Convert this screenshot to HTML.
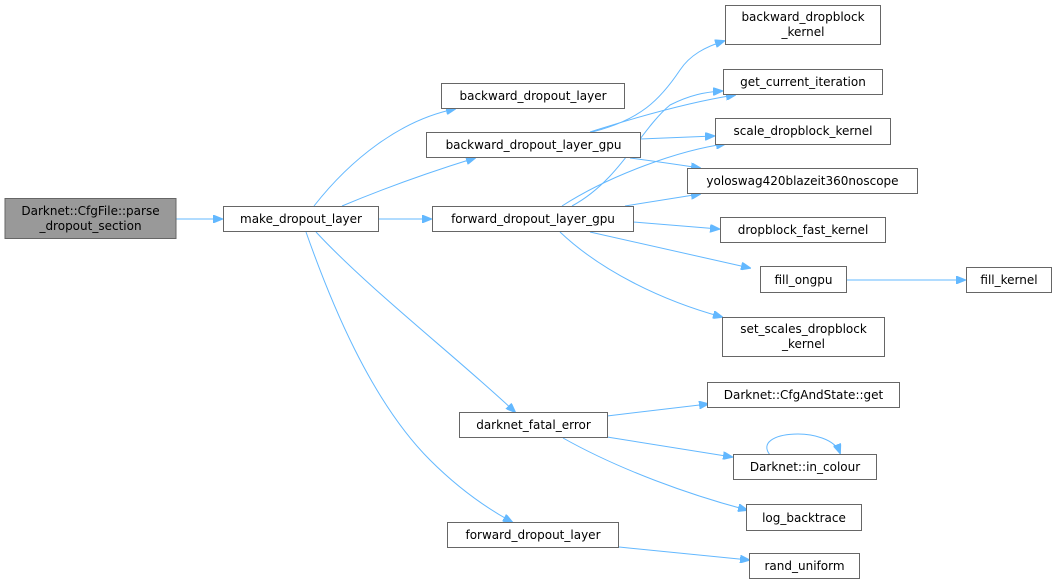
<!DOCTYPE html>
<html><head><meta charset="utf-8"><style>
html,body{margin:0;padding:0;background:#fff;}
svg{display:block}
text{font-family:"DejaVu Sans","Liberation Sans",sans-serif;font-size:12px;fill:#000;text-anchor:middle}
.n{fill:#fff;stroke:#666;stroke-width:1}
.e{fill:none;stroke:#63b8ff;stroke-width:1}
</style></head><body>
<svg width="1057" height="585" viewBox="0 0 1057 585">
<defs><marker id="a" markerWidth="10" markerHeight="8" refX="9" refY="4" orient="auto" markerUnits="userSpaceOnUse"><path d="M0,0 L10,4 L0,8 z" fill="#63b8ff" stroke="#63b8ff"/></marker></defs>
<g class="e" marker-end="url(#a)">
<path d="M176,219 L222,219"/>
<path d="M314,206 C350,160 400,120 455,109"/>
<path d="M342,206 C380,190 430,172 475,158"/>
<path d="M378,219 L431,219"/>
<path d="M316,232 C370,290 460,360 515,412"/>
<path d="M306,232 C330,300 370,400 430,460 C460,490 490,510 512,522"/>
<path d="M592,132 C640,120 660,100 680,70 C690,55 705,47 724,41"/>
<path d="M590,132 C640,116 690,102 735,95"/>
<path d="M640,139 L714,136"/>
<path d="M630,158 C660,162 680,165 700,168"/>
<path d="M562,206 C610,175 680,150 725,144"/>
<path d="M572,206 C620,180 640,130 670,105 C690,95 705,92 722,91"/>
<path d="M625,206 L700,194"/>
<path d="M633,222 L719,229"/>
<path d="M590,232 L750,268"/>
<path d="M560,232 C600,270 660,300 722,317"/>
<path d="M846,280 L965,280"/>
<path d="M607,416 L708,404"/>
<path d="M607,437 L732,457"/>
<path d="M563,438 C620,470 690,495 747,510"/>
<path d="M770,455 C750,430 830,425 840,453"/>
<path d="M619,547 L749,560"/>
</g>
<rect x="5" y="198.5" width="171" height="40" fill="#999" stroke="#666"/>
<text x="90.5" y="215">Darknet::CfgFile::parse</text>
<text x="90.5" y="230">_dropout_section</text>
<rect class="n" x="223.5" y="206.5" width="155" height="25"/><text x="301" y="223">make_dropout_layer</text>
<rect class="n" x="441.5" y="83.5" width="183" height="25"/><text x="533" y="100">backward_dropout_layer</text>
<rect class="n" x="426.5" y="132.5" width="214" height="25"/><text x="533.5" y="149">backward_dropout_layer_gpu</text>
<rect class="n" x="432.5" y="206.5" width="201" height="25"/><text x="533" y="223">forward_dropout_layer_gpu</text>
<rect class="n" x="459.5" y="412.5" width="148" height="25"/><text x="533.5" y="429">darknet_fatal_error</text>
<rect class="n" x="447.5" y="522.5" width="171" height="25"/><text x="533" y="539">forward_dropout_layer</text>
<rect class="n" x="725.5" y="5.5" width="155" height="39"/><text x="803" y="21">backward_dropblock</text><text x="803" y="36">_kernel</text>
<rect class="n" x="723.5" y="69.5" width="159" height="25"/><text x="803" y="86">get_current_iteration</text>
<rect class="n" x="715.5" y="118.5" width="175" height="26"/><text x="803" y="135">scale_dropblock_kernel</text>
<rect class="n" x="687.5" y="168.5" width="230" height="25"/><text x="802.5" y="185">yoloswag420blazeit360noscope</text>
<rect class="n" x="720.5" y="217.5" width="165" height="25"/><text x="803" y="234">dropblock_fast_kernel</text>
<rect class="n" x="760.5" y="266.5" width="86" height="26"/><text x="803.5" y="284">fill_ongpu</text>
<rect class="n" x="966.5" y="267.5" width="85" height="25"/><text x="1009" y="284">fill_kernel</text>
<rect class="n" x="722.5" y="317.5" width="162" height="39"/><text x="803.5" y="333">set_scales_dropblock</text><text x="803.5" y="348">_kernel</text>
<rect class="n" x="707.5" y="382.5" width="192" height="25"/><text x="803.5" y="399">Darknet::CfgAndState::get</text>
<rect class="n" x="733.5" y="454.5" width="143" height="25"/><text x="805" y="471">Darknet::in_colour</text>
<rect class="n" x="746.5" y="504.5" width="115" height="26"/><text x="804" y="522">log_backtrace</text>
<rect class="n" x="749.5" y="553.5" width="110" height="25"/><text x="804.5" y="570">rand_uniform</text>
</svg>
</body></html>
